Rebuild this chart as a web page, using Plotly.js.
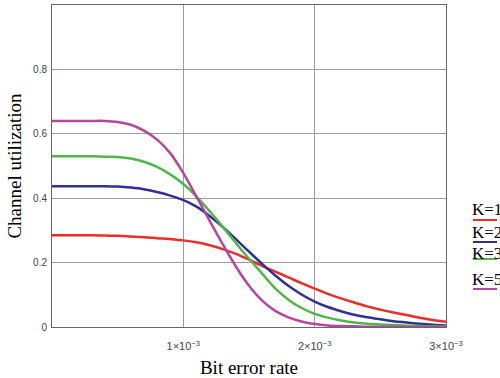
<!DOCTYPE html>
<html>
<head>
<meta charset="utf-8">
<script src="https://cdn.plot.ly/plotly-3.0.1.min.js"></script>
<style>html,body{margin:0;padding:0;background:#fff;}#chart{width:500px;height:378px;}</style>
</head>
<body>
<div id="chart"></div>
<script>
// Bit error rate (units of 1e-3)
const berE3 = [0.0,0.1,0.2,0.3,0.4,0.5,0.6,0.7,0.8,0.9,1.0,1.1,1.2,1.3,1.4,1.5,1.6,1.7,1.8,1.9,2.0,2.1,2.2,2.3,2.4,2.5,2.6,2.7,2.8,2.9,3.0];
const utilK1 = [0.285,0.285,0.285,0.285,0.284,0.283,0.281,0.279,0.276,0.273,0.269,0.263,0.254,0.242,0.227,0.209,0.190,0.172,0.154,0.136,0.119,0.103,0.089,0.076,0.064,0.054,0.045,0.037,0.029,0.022,0.016];
const utilK2 = [0.437,0.437,0.437,0.437,0.437,0.436,0.433,0.428,0.419,0.408,0.394,0.374,0.345,0.311,0.273,0.234,0.196,0.160,0.128,0.101,0.079,0.062,0.049,0.038,0.030,0.024,0.018,0.014,0.010,0.007,0.005];
const utilK3 = [0.530,0.530,0.530,0.530,0.529,0.528,0.523,0.513,0.497,0.474,0.444,0.405,0.360,0.311,0.261,0.212,0.166,0.120,0.085,0.059,0.041,0.029,0.020,0.014,0.010,0.008,0.006,0.004,0.003,0.002,0.002];
const utilK5 = [0.640,0.640,0.640,0.640,0.640,0.637,0.628,0.610,0.582,0.540,0.478,0.405,0.330,0.257,0.188,0.128,0.082,0.050,0.030,0.017,0.009,0.005,0.003,0.002,0.001,0.001,0.000,0.000,0.000,0.000,0.000];
const seriesNames = ["K=1","K=2","K=3","K=5"];
const seriesColors = ["#ec2b2b","#2e3192","#4fb64a","#b4469e"];
const xTickVals = [0.001,0.002,0.003];
const xTickText = ["1×10<sup>−3</sup>","2×10<sup>−3</sup>","3×10<sup>−3</sup>"];
const yTickVals = [0,0.2,0.4,0.6,0.8];
const yTickText = ["0","0.2","0.4","0.6","0.8"];

const ber = berE3.map(v => v * 1e-3);
const allY = [utilK1, utilK2, utilK3, utilK5];
const traces = allY.map((ys, i) => ({
  x: ber, y: ys, type: "scatter", mode: "lines", name: seriesNames[i],
  line: {color: seriesColors[i], width: 2.5, shape: "spline", smoothing: 1},
  showlegend: false, hoverinfo: "skip"
}));

// custom legend: text above a short coloured line, at the right edge
const legTextY = [209, 232, 253, 279];
const legLineY = [220, 242, 259, 289];
const toPy = py => (327 - py) / 322;
const annotations = seriesNames.map((n, i) => ({
  text: n, xref: "paper", yref: "paper", x: (470 - 52) / 394, y: toPy(legTextY[i]),
  xanchor: "left", yanchor: "middle", showarrow: false,
  font: {family: "Liberation Serif, Times New Roman, serif", size: 17, color: "#000"}
}));
const shapes = seriesNames.map((n, i) => ({
  type: "line", xref: "paper", yref: "paper",
  x0: (473 - 52) / 394, x1: (497 - 52) / 394, y0: toPy(legLineY[i]), y1: toPy(legLineY[i]),
  line: {color: seriesColors[i], width: 2}
}));

const layout = {
  width: 500, height: 378,
  margin: {l: 52, r: 54, t: 5, b: 51},
  paper_bgcolor: "#ffffff", plot_bgcolor: "#ffffff",
  xaxis: {
    range: [0, 0.003], tickvals: xTickVals, ticktext: xTickText,
    showgrid: true, gridcolor: "#9c9c9c", gridwidth: 1,
    showline: true, linecolor: "#666", linewidth: 1, mirror: true,
    zeroline: false, ticks: "", automargin: false, ticklabelstandoff: 9,
    tickfont: {family: "Liberation Sans, Arial, sans-serif", size: 11, color: "#444"},
    title: {text: "Bit error rate", standoff: 9,
      font: {family: "Liberation Serif, Times New Roman, serif", size: 19, color: "#000"}}
  },
  yaxis: {
    range: [0, 1.0], tickvals: yTickVals, ticktext: yTickText,
    showgrid: true, gridcolor: "#9c9c9c", gridwidth: 1,
    showline: true, linecolor: "#666", linewidth: 1, mirror: true,
    zeroline: false, ticks: "", automargin: false, ticklabelstandoff: 2,
    tickfont: {family: "Liberation Sans, Arial, sans-serif", size: 10, color: "#444"},
    title: {text: "Channel utilization", standoff: 6,
      font: {family: "Liberation Serif, Times New Roman, serif", size: 19, color: "#000"}}
  },
  annotations: annotations,
  shapes: shapes,
  showlegend: false
};

Plotly.newPlot("chart", traces, layout, {displayModeBar: false, staticPlot: true});
</script>
</body>
</html>
